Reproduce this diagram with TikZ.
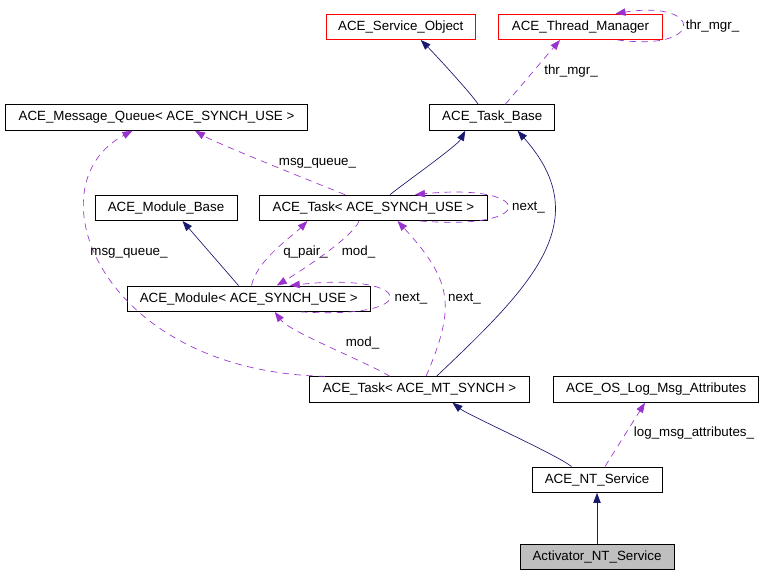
\documentclass[tikz,border=0pt]{standalone}
\usepackage{fontspec}
\setmainfont{Liberation Sans}
\usetikzlibrary{arrows.meta}
\definecolor{n}{RGB}{25,25,112}
\definecolor{p}{RGB}{154,50,205}
\definecolor{r}{RGB}{255,0,0}
\definecolor{g}{RGB}{191,191,191}

\begin{document}
\begin{tikzpicture}[x=0.75pt,y=-0.75pt, %un pixel de l'image
	cls/.style={draw, line width=0.75pt, minimum height=19pt, inner sep=0pt, text height=7.2pt, text depth=2pt, font=\fontsize{10}{12}\selectfont},
	lbl/.style={inner sep=0pt, text height=7.2pt, text depth=2pt, font=\fontsize{10}{12}\selectfont},
	inh/.style={n, line width=0.5pt, -{Triangle[length=7.5pt,width=5.5pt]}},
	usg/.style={p, line width=0.5pt, dash pattern=on 5pt off 4pt, -{Triangle[length=7.5pt,width=5.5pt]}}]
				\useasboundingbox (0,0) rectangle (773,575);
				% les classes
				\node[cls, draw=r, minimum width=112pt] (so) at (400.75,26.8) {ACE\_Service\_Object};
				\node[cls, draw=r, minimum width=122.3pt] (tm) at (580.5,26.8) {ACE\_Thread\_Manager};
				\node[cls, minimum width=226.5pt] (mq) at (156.5,117.5) {ACE\_Message\_Queue< ACE\_SYNCH\_USE >};
				\node[cls, minimum width=94.1pt] (tb) at (492.25,117.5) {ACE\_Task\_Base};
				\node[cls, minimum width=106.5pt] (mb) at (166,207.8) {ACE\_Module\_Base};
				\node[cls, minimum width=170.3pt] (tsu) at (373.5,207.8) {ACE\_Task< ACE\_SYNCH\_USE >};
				\node[cls, minimum width=181.9pt] (mod) at (248.75,298.7) {ACE\_Module< ACE\_SYNCH\_USE >};
				\node[cls, minimum width=164.3pt] (tmt) at (419.5,389.5) {ACE\_Task< ACE\_MT\_SYNCH >};
				\node[cls, minimum width=154.1pt] (log) at (656.25,389.5) {ACE\_OS\_Log\_Msg\_Attributes};
				\node[cls, minimum width=97.5pt] (nts) at (597,479.7) {ACE\_NT\_Service};
				\node[cls, fill=g, minimum width=115.5pt] (act) at (597,557.2) {Activator\_NT\_Service};
				% heritage
				\draw[inh] ([shift={(-14,0)}]tb.north) .. controls +(-8,-12) and +(12,12) .. ([shift={(20,0)}]so.south);
				\draw[inh] ([shift={(16.5,0)}]tsu.north) .. controls +(15,-12) and +(-8,15) .. ([shift={(-27,0)}]tb.south);
				\draw[inh] ([shift={(-10.25,0)}]mod.north) -- ([shift={(16.5,0)}]mb.south);
				\draw[inh] ([shift={(17,0)}]tmt.north) .. controls +(95,-90) and +(80,90) .. ([shift={(25.25,0)}]tb.south);
				\draw[inh] ([shift={(-25.5,0)}]nts.north) .. controls +(-15,-12) and +(15,12) .. ([shift={(33,0)}]tmt.south);
				\draw[inh] (act.north) -- (nts.south);
				% membres
				\draw[usg] ([shift={(13,0)}]tb.north) -- ([shift={(-20.5,0)}]tm.south);
				\draw[usg] ([shift={(37,0)}]tm.south) .. controls +(88,12) and +(88,-14) .. ([shift={(35,0)}]tm.north);
				\draw[usg] ([shift={(-28.5,0)}]tsu.north) .. controls +(-30,-12) and +(20,12) .. ([shift={(38.5,0)}]mq.south);
				\draw[usg] ([shift={(46.5,0)}]tsu.south) .. controls +(120,10) and +(120,-12) .. ([shift={(41.5,0)}]tsu.north);
				\draw[usg] ([shift={(2.75,0)}]mod.north) .. controls +(5,-25) and +(-15,15) .. ([shift={(-66,0)}]tsu.south);
				\draw[usg] ([shift={(-14.5,0)}]tsu.south) .. controls +(-5,15) and +(25,-15) .. ([shift={(28,0)}]mod.north);
				\draw[usg] ([shift={(52,0)}]mod.south) .. controls +(125,8) and +(125,-14) .. ([shift={(41,0)}]mod.north);
				\draw[usg] ([shift={(6.5,0)}]tmt.north) .. controls +(30,-70) and +(55,60) .. ([shift={(24,0)}]tsu.south);
				\draw[usg] ([shift={(-29.5,0)}]tmt.north) .. controls +(-25,-15) and +(15,20) .. ([shift={(26,0)}]mod.south);
				\draw[usg] ([shift={(-94.5,0)}]tmt.north) .. controls +(-225,-5) and +(-102.5,54.7) .. ([shift={(-24,0)}]mq.south);
				\draw[usg] ([shift={(8,0)}]nts.north) -- ([shift={(-11.25,0)}]log.south);
				% etiquettes
				\node[lbl] (l-thr) at (571,71) {thr\_mgr\_};
				\node[lbl] (l-thrself) at (712.5,25.7) {thr\_mgr\_};
				\node[lbl] (l-mq) at (317.5,162.3) {msg\_queue\_};
				\node[lbl] (l-next) at (528.5,207) {next\_};
				\node[lbl] (l-qpair) at (305.5,251.7) {q\_pair\_};
				\node[lbl] (l-mod) at (358.5,251.7) {mod\_};
				\node[lbl] (l-nextmod) at (411,297.7) {next\_};
				\node[lbl] (l-nexttmt) at (464.5,297.7) {next\_};
				\node[lbl] (l-modtmt) at (362.5,342.7) {mod\_};
				\node[lbl] (l-mqtmt) at (129,251.7) {msg\_queue\_};
				\node[lbl] (l-log) at (694,433.3) {log\_msg\_attributes\_};
			\end{tikzpicture}
\end{document}
